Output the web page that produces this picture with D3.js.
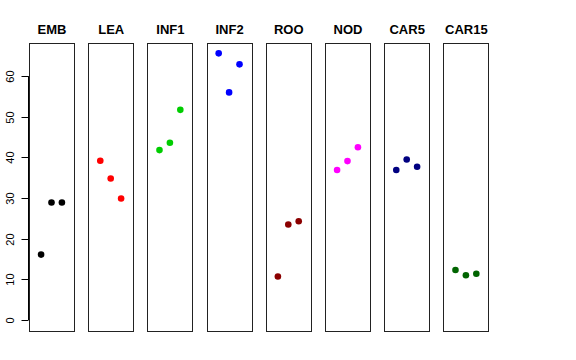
<!DOCTYPE html>
<html><head><meta charset="utf-8">
<script src="https://cdn.jsdelivr.net/npm/d3@7"></script>
<style>body{margin:0;background:#fff}</style>
</head><body><div id="chart"></div>
<script>
const categories = ["EMB","LEA","INF1","INF2","ROO","NOD","CAR5","CAR15"];
const colors = ["#000000","#FF0000","#00CD00","#0000FF","#8B0000","#FF00FF","#000080","#006400"];
const values = [
  [16.1, 28.9, 28.9],
  [39.2, 34.8, 29.9],
  [41.8, 43.6, 51.7],
  [65.6, 56.0, 62.9],
  [10.7, 23.5, 24.3],
  [36.9, 39.1, 42.5],
  [36.9, 39.5, 37.7],
  [12.3, 11.0, 11.4]
];
const yTicks = [0,10,20,30,40,50,60];

(function(){
const W = 576, H = 360;
const svg = d3.select("#chart").append("svg").attr("width", W).attr("height", H)
  .style("font-family", "'Liberation Sans', Arial, sans-serif");

const plotTop = 42.7, plotBottom = 330.7;
const yScale = d3.scaleLinear().domain([-0.04*65.6, 65.6*1.04]).range([plotBottom, plotTop]);

const panelLeft0 = 29, panelStep = 59.2, panelW = 45;

categories.forEach((cat, i) => {
  const left = panelLeft0 + panelStep * i;
  const g = svg.append("g");
  const x = d3.scaleLinear().domain([-0.16, 4.16]).range([left, left + panelW]);
  values[i].forEach((v, j) => {
    g.append("circle")
      .attr("cx", x(j + 1))
      .attr("cy", yScale(v))
      .attr("r", 3.3)
      .attr("fill", colors[i]);
  });
  g.append("rect")
    .attr("x", Math.round(left) + 0.5)
    .attr("y", Math.round(plotTop) + 0.5)
    .attr("width", panelW)
    .attr("height", Math.round(plotBottom) - Math.round(plotTop))
    .attr("fill", "none")
    .attr("stroke", "#222")
    .attr("stroke-width", 1);
  g.append("text")
    .attr("x", left + panelW / 2 + 0.5)
    .attr("y", 33.5)
    .attr("text-anchor", "middle")
    .attr("font-weight", "bold")
    .attr("font-size", "13px")
    .text(cat);
});

const axisG = svg.append("g").attr("transform", `translate(${Math.round(panelLeft0) - 0.5},0)`);
axisG.append("line")
  .attr("x1", 0).attr("x2", 0)
  .attr("y1", yScale(0)).attr("y2", yScale(60))
  .attr("stroke", "#000");
yTicks.forEach(t => {
  const yy = Math.round(yScale(t)) + 0.5;
  axisG.append("line").attr("x1", -7).attr("x2", 0).attr("y1", yy).attr("y2", yy).attr("stroke", "#000");
  axisG.append("text")
    .attr("transform", `translate(-15,${yy}) rotate(-90)`)
    .attr("text-anchor", "middle")
    .attr("font-size", "11px")
    .text(t);
});
})();
</script></body></html>
